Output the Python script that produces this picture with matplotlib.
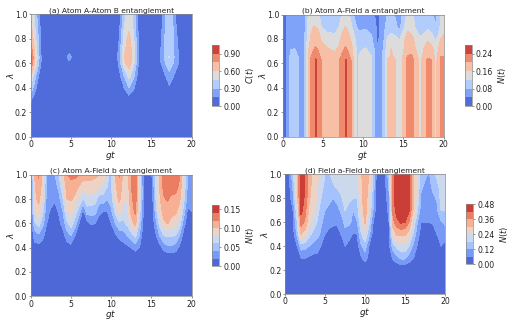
import numpy as np
import matplotlib
matplotlib.use("Agg")
import matplotlib.pyplot as plt

# panel (a): rows are lambda, columns are gt
a_gt = [0, .4, .8, 1.2, 1.5, 4.3, 4.8, 5.3, 10.5, 11, 11.6, 12.2, 12.8, 13.4, 13.8, 15.6, 16.2, 16.8, 17.2, 17.6, 18.2, 18.7, 20]
a_lam = [0, .2, .3, .4, .5, .6, .65, .7, .8, .9, 1]
a_vals = [
    [0] * 23,
    [.05, .03, .01, 0, 0, 0, 0, 0, 0, 0, 0, .01, 0, 0, 0, 0, 0, 0, 0, 0, 0, 0, 0],
    [.17, .08, .02, 0, 0, 0, 0, 0, 0, 0, .02, .05, .02, 0, 0, 0, 0, 0, 0, 0, 0, 0, 0],
    [.42, .26, .11, .03, 0, 0, 0, 0, 0, .03, .15, .3, .17, .02, 0, 0, .02, .05, .12, .06, .02, 0, 0],
    [.62, .42, .22, .07, 0, 0, 0, 0, 0, .1, .3, .5, .33, .07, .02, 0, .06, .16, .26, .18, .08, .02, 0],
    [.92, .66, .43, .19, .03, .02, .07, .02, .02, .2, .55, .68, .48, .14, .04, .03, .15, .32, .38, .32, .18, .08, 0],
    [.97, .68, .45, .2, .04, .06, .26, .06, .03, .22, .6, .72, .52, .16, .04, .04, .17, .36, .46, .36, .19, .1, 0],
    [.88, .63, .42, .18, .03, .02, .07, .02, .03, .2, .56, .7, .5, .15, .04, .03, .16, .35, .4, .35, .17, .08, 0],
    [.72, .56, .38, .16, .02, 0, 0, 0, .02, .15, .5, .66, .46, .13, .03, .02, .14, .35, .39, .35, .15, .05, 0],
    [.64, .5, .32, .13, 0, 0, 0, 0, .02, .1, .44, .56, .42, .1, .02, 0, .1, .33, .37, .33, .1, .02, 0],
    [.58, .46, .28, .1, 0, 0, 0, 0, 0, .08, .42, .5, .42, .08, .02, 0, .06, .31, .35, .31, .06, 0, 0],
]

# panel (b)
b_gt = [0, .3, .7, 1, 1.5, 2, 2.3, 2.6, 2.9, 3.2, 3.5, 3.8, 4.1, 4.4, 4.8, 5.5, 6.5, 7, 7.4, 7.8, 8.2, 8.6, 9, 9.3, 9.6, 10.3,
        11, 11.4, 11.8, 12.2, 12.6, 13, 13.5, 14, 14.5, 15, 15.5, 16, 16.5, 17, 17.5, 18, 18.5, 19, 19.3, 19.6, 20]
b_lam = [0, .63, .66, .72, .8, .9, 1]
b_low = [.01, .025, .06, .095, .105, .08, .06, .07, .11, .165, .205, .225, .245, .23, .198, .18, .175, .198, .222, .243, .225, .19, .13, .115,
         .13, .145, .125, .085, .05, .06, .1, .16, .18, .16, .14, .17, .21, .215, .185, .15, .175, .205, .2, .15, .17, .205, .21]
b_66 = [.01, .03, .06, .09, .095, .075, .06, .07, .11, .16, .195, .212, .222, .212, .19, .172, .168, .182, .208, .222, .208, .175, .13, .115,
        .125, .14, .12, .08, .045, .06, .095, .15, .165, .15, .135, .165, .2, .205, .175, .145, .165, .19, .185, .145, .165, .2, .2]
b_72 = [.01, .03, .055, .078, .08, .07, .055, .07, .11, .155, .18, .195, .205, .195, .175, .162, .155, .165, .19, .205, .19, .165, .13, .11,
        .115, .122, .11, .075, .04, .06, .09, .14, .16, .148, .13, .155, .185, .185, .16, .14, .16, .178, .17, .14, .155, .18, .19]
b_80 = [.01, .03, .05, .06, .065, .06, .05, .065, .1, .145, .165, .18, .183, .18, .155, .14, .135, .15, .17, .185, .17, .15, .12, .1,
        .1, .1, .09, .06, .03, .055, .08, .125, .145, .13, .115, .15, .175, .17, .15, .125, .13, .155, .14, .115, .13, .16, .165]
b_90 = [.01, .03, .05, .06, .065, .05, .035, .06, .09, .135, .15, .16, .16, .155, .12, .105, .1, .12, .15, .16, .15, .12, .09, .075,
        .07, .075, .06, .05, .03, .05, .075, .09, .09, .09, .065, .11, .15, .145, .115, .1, .105, .11, .1, .09, .1, .125, .15]
b_100 = [.015, .025, .05, .06, .06, .05, .03, .06, .085, .125, .14, .14, .135, .13, .095, .09, .085, .1, .125, .14, .13, .09, .07, .06,
         .06, .06, .05, .04, .03, .05, .065, .08, .09, .075, .06, .09, .13, .13, .105, .09, .09, .09, .085, .06, .09, .115, .145]
b_vals = [b_low, b_low, b_66, b_72, b_80, b_90, b_100]

# panels (c) and (d): each line is one gt column, from low lambda to high lambda
c_gt = np.arange(0, 20.5, .5)
c_lam = [.3, .4, .5, .6, .7, .8, .9, 1]
c_cols = [
    [0, 0, 0, 0, 0, 0, .005, .01],
    [0, .012, .03, .055, .08, .095, .098, .1],
    [0, .012, .035, .07, .095, .105, .113, .123],
    [0, .01, .025, .045, .065, .08, .09, .095],
    [0, 0, .01, .02, .025, .03, .035, .035],
    [0, 0, 0, .01, .018, .025, .03, .035],
    [0, 0, 0, .005, .015, .022, .03, .04],
    [0, 0, .005, .015, .022, .032, .045, .06],
    [0, 0, .012, .027, .04, .058, .075, .09],
    [0, .01, .03, .055, .08, .1, .11, .118],
    [0, .012, .04, .07, .088, .102, .112, .125],
    [0, .005, .02, .05, .07, .095, .108, .125],
    [0, 0, .01, .02, .052, .075, .098, .12],
    [0, 0, 0, .008, .015, .058, .085, .112],
    [0, 0, .005, .012, .05, .074, .09, .11],
    [0, 0, .005, .022, .05, .072, .09, .108],
    [0, 0, .005, .02, .048, .068, .088, .105],
    [0, 0, 0, .012, .025, .05, .08, .1],
    [0, 0, 0, .005, .02, .05, .075, .1],
    [0, 0, 0, .005, .02, .04, .06, .07],
    [0, 0, .005, .02, .035, .05, .055, .05],
    [0, .002, .015, .04, .065, .085, .095, .1],
    [0, .005, .027, .056, .088, .105, .113, .122],
    [0, .012, .03, .055, .072, .085, .09, .095],
    [0, .015, .04, .065, .075, .082, .088, .09],
    [0, .02, .05, .09, .108, .115, .12, .122],
    [0, .028, .065, .108, .125, .13, .133, .13],
    [0, .02, .04, .055, .068, .075, .078, .08],
    [0, 0, .005, .012, .02, .022, .02, .015],
    [0, 0, 0, 0, 0, 0, 0, .01],
    [0, 0, 0, 0, 0, 0, .005, .015],
    [0, .005, .015, .03, .045, .055, .06, .065],
    [0, .01, .04, .065, .085, .095, .1, .105],
    [0, .025, .06, .095, .108, .118, .124, .128],
    [0, .035, .062, .102, .112, .122, .13, .135],
    [0, .035, .062, .09, .108, .116, .126, .132],
    [0, .03, .06, .088, .105, .115, .127, .132],
    [0, .015, .04, .07, .09, .105, .115, .123],
    [0, 0, .01, .03, .05, .065, .075, .08],
    [0, 0, 0, .005, .015, .03, .035, .04],
    [0, 0, 0, 0, .02, .03, .04, .04],
]

d_gt = np.arange(0, 20.5, .5)
d_lam = [.2, .3, .4, .5, .6, .7, .8, .9, 1]
d_cols = [
    [0, 0, 0, 0, 0, 0, 0, 0, .005],
    [0, 0, 0, 0, .01, .02, .03, .04, .05],
    [0, 0, .01, .03, .05, .06, .1, .13, .16],
    [0, .03, .06, .13, .17, .22, .27, .29, .3],
    [0, .06, .15, .3, .39, .44, .45, .46, .46],
    [0, .06, .14, .27, .35, .38, .41, .42, .42],
    [0, .05, .12, .2, .26, .29, .31, .32, .33],
    [0, .04, .1, .16, .22, .25, .27, .28, .28],
    [0, .04, .09, .14, .18, .21, .24, .25, .26],
    [0, .02, .06, .11, .13, .15, .18, .2, .21],
    [0, 0, .03, .06, .1, .12, .145, .165, .18],
    [0, 0, .02, .04, .08, .115, .125, .145, .17],
    [0, 0, .01, .04, .07, .1, .12, .17, .2],
    [0, 0, .015, .045, .065, .095, .14, .19, .21],
    [0, 0, .02, .06, .09, .13, .17, .2, .21],
    [0, 0, .06, .1, .135, .18, .2, .21, .22],
    [0, 0, .03, .09, .13, .16, .19, .21, .22],
    [0, 0, .02, .055, .11, .12, .18, .21, .22],
    [0, .02, .03, .06, .115, .15, .18, .21, .23],
    [0, .05, .11, .17, .22, .25, .27, .28, .29],
    [0, .09, .15, .23, .31, .34, .34, .34, .34],
    [0, .04, .06, .14, .19, .23, .26, .28, .3],
    [0, 0, .01, .03, .065, .12, .14, .16, .17],
    [0, 0, 0, 0, .005, .01, .015, .02, .03],
    [0, 0, 0, 0, 0, 0, .005, .01, .01],
    [0, 0, 0, .005, .01, .02, .03, .04, .05],
    [0, .02, .04, .05, .06, .08, .1, .13, .15],
    [0, .07, .15, .26, .34, .38, .4, .4, .4],
    [0, .1, .2, .31, .4, .45, .46, .46, .46],
    [0, .13, .22, .31, .43, .46, .47, .47, .47],
    [0, .13, .22, .31, .42, .46, .46, .47, .47],
    [0, .09, .18, .27, .36, .43, .44, .45, .45],
    [0, .065, .11, .18, .24, .3, .31, .31, .31],
    [0, .03, .06, .09, .13, .2, .22, .24, .25],
    [0, 0, .02, .04, .06, .09, .11, .13, .15],
    [0, 0, .01, .03, .06, .08, .09, .11, .13],
    [0, 0, .01, .03, .06, .08, .09, .105, .115],
    [0, 0, .02, .04, .065, .09, .11, .13, .15],
    [0, 0, .03, .06, .09, .11, .125, .155, .2],
    [0, 0, .06, .07, .11, .18, .2, .21, .22],
    [0, 0, .04, .09, .13, .18, .2, .22, .23],
]

a_levels = [0, .15, .3, .45, .6, .75, .9, 1.05]
b_levels = [0, .04, .08, .12, .16, .2, .24, .28]
c_levels = [0, .02, .04, .06, .08, .1, .12, .14, .16]
d_levels = [0, .06, .12, .18, .24, .3, .36, .42, .48]

W, H = 512, 324


def px_axes(fig, x0, y0, x1, y1):
    return fig.add_axes([x0 / W, 1 - y1 / H, (x1 - x0) / W, (y1 - y0) / H])


def panel(fig, box, cbox, gt, lam, z, levels, ticks, title, cblabel):
    ax = px_axes(fig, *box)
    cs = ax.contourf(gt, lam, z, levels=levels, cmap="coolwarm", vmin=levels[0], vmax=levels[-1])
    ax.set_xlim(0, 20)
    ax.set_ylim(0, 1)
    ax.set_xticks([0, 5, 10, 15, 20])
    ax.set_yticks([0, .2, .4, .6, .8, 1])
    ax.tick_params(labelsize=5.6, length=1.5, width=.4, pad=1, color="#444444", labelcolor="#222222")
    ax.set_xlabel("$gt$", fontsize=6.5, labelpad=-.3, color="#222222")
    ax.set_ylabel("$\\lambda$", fontsize=6.5, labelpad=-.5, color="#222222")
    ax.set_title(title, fontsize=5.4, pad=1.5, color="#222222")
    for s in ax.spines.values():
        s.set_linewidth(.5)
        s.set_color("#888888")
    cax = px_axes(fig, *cbox)
    cb = fig.colorbar(cs, cax=cax, ticks=ticks)
    cb.ax.set_yticklabels(["%.2f" % t for t in ticks])
    cb.ax.tick_params(labelsize=5.6, length=1.5, width=.4, pad=1.2, color="#444444", labelcolor="#222222")
    cb.set_label(cblabel, fontsize=6, labelpad=2.5, color="#222222")
    cb.outline.set_linewidth(.5)
    cb.outline.set_edgecolor("#888888")


fig = plt.figure(figsize=(W / 100, H / 100), dpi=100)

panel(fig, (30.7, 14.3, 191.7, 136.7), (212.3, 45, 219.3, 106), a_gt, a_lam, np.array(a_vals), a_levels,
      [0, .3, .6, .9], "(a) Atom A-Atom B entanglement", "$C(t)$")
panel(fig, (282.7, 14.5, 443.7, 136.7), (465, 45, 472, 106), b_gt, b_lam, np.array(b_vals), b_levels,
      [0, .08, .16, .24], "(b) Atom A-Field a entanglement", "$N(t)$")

# columns to rows, plus a flat zero row at lambda 0
c_z = np.vstack([np.zeros(41), np.array(c_cols).T])
panel(fig, (30.7, 174.7, 191.7, 296.3), (212.3, 205.3, 219.3, 266.3), c_gt, [0] + c_lam, c_z, c_levels,
      [0, .05, .1, .15], "(c) Atom A-Field b entanglement", "$N(t)$")
d_z = np.vstack([np.zeros(41), np.array(d_cols).T])
panel(fig, (285, 174.3, 445, 294), (466.3, 204.3, 473.3, 264), d_gt, [0] + d_lam, d_z, d_levels,
      [0, .12, .24, .36, .48], "(d) Field a-Field b entanglement", "$N(t)$")

fig.savefig("out.png", dpi=100)
